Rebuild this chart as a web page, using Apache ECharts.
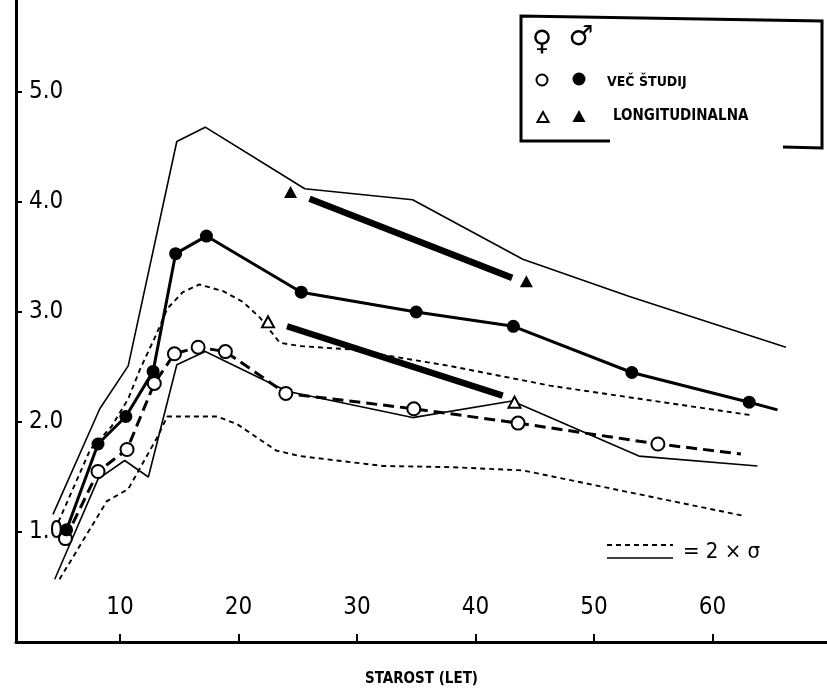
<!DOCTYPE html>
<html><head><meta charset="utf-8">
<script src="https://cdn.jsdelivr.net/npm/echarts@6/dist/echarts.min.js"></script>
<style>html,body{margin:0;padding:0;background:#fff}#c{width:827px;height:692px}</style>
</head><body><div id="c"></div>
<script>
// ---- data ----
const xTicks = [10, 20, 30, 40, 50, 60];
const yTicks = [1, 2, 3, 4, 5];
const maleAges = [5.5, 8.15, 10.5, 12.8, 14.7, 17.3, 25.3, 35.0, 43.2, 53.2, 63.1];
const maleMeans = [1.02, 1.80, 2.05, 2.46, 3.53, 3.69, 3.18, 3.00, 2.87, 2.45, 2.18];
const maleLineEnd = [65.5, 2.11];
const femaleAges = [5.4, 8.15, 10.6, 12.9, 14.6, 16.6, 18.9, 24.0, 34.8, 43.6, 55.4];
const femaleMeans = [0.94, 1.55, 1.75, 2.35, 2.62, 2.68, 2.64, 2.26, 2.12, 1.99, 1.80];
const femaleLineEnd = [62.4, 1.71];
const maleUpperAges = [4.35, 8.3, 10.7, 14.8, 17.2, 25.6, 34.7, 44.0, 53.0, 66.2];
const maleUpper = [1.16, 2.12, 2.51, 4.55, 4.68, 4.12, 4.02, 3.48, 3.14, 2.68];
const maleLowerAges = [4.5, 8.15, 10.4, 12.4, 14.8, 17.2, 24.1, 34.7, 43.1, 53.8, 63.8];
const maleLower = [0.57, 1.48, 1.65, 1.50, 2.52, 2.64, 2.28, 2.04, 2.19, 1.69, 1.60];
const femaleUpperAges = [4.8, 7.5, 9.3, 10.7, 11.7, 13.0, 14.0, 15.3, 16.7, 18.7, 20.4, 21.8, 23.5, 25.2, 29.4, 37.8, 46.3, 63.4];
const femaleUpper = [1.09, 1.75, 1.96, 2.21, 2.48, 2.78, 3.03, 3.18, 3.25, 3.19, 3.09, 2.95, 2.72, 2.69, 2.66, 2.51, 2.33, 2.06];
const femaleLowerAges = [4.9, 8.9, 10.7, 13.1, 14.0, 16.7, 18.2, 19.9, 23.2, 25.2, 32.2, 37.8, 44.0, 62.5];
const femaleLower = [0.57, 1.28, 1.39, 1.85, 2.05, 2.05, 2.05, 1.98, 1.74, 1.69, 1.60, 1.59, 1.56, 1.15];
const maleLongAges = [24.4, 44.3];
const maleLongValues = [4.09, 3.28];
const maleTrendAges = [26.0, 43.1];
const maleTrend = [4.03, 3.31];
const femaleLongAges = [22.5, 43.3];
const femaleLongValues = [2.91, 2.18];
const femaleTrendAges = [24.1, 42.3];
const femaleTrend = [2.87, 2.24];

const zip = (a, b) => a.map((v, i) => [v, b[i]]);
const FONT = '"DejaVu Sans Condensed", "DejaVu Sans", sans-serif';

const maleData = zip(maleAges, maleMeans);
maleData.push({ value: maleLineEnd, symbol: 'none' });
const femaleData = zip(femaleAges, femaleMeans);
femaleData.push({ value: femaleLineEnd, symbol: 'none' });

const env = (data, dashed) => ({
  type: 'line', data, symbol: 'none', silent: true, z: 2,
  lineStyle: { color: '#000', width: dashed ? 1.9 : 1.6, type: dashed ? [5, 4] : 'solid' }
});

const chart = echarts.init(document.getElementById('c'), null, { renderer: 'canvas' });
chart.setOption({
  backgroundColor: '#fff',
  animation: false,
  grid: { left: 16, right: 0, top: 0, bottom: 50, containLabel: false },
  xAxis: {
    type: 'value', min: 1.23, max: 69.67,
    name: 'STAROST (LET)', nameLocation: 'middle', nameGap: 30,
    nameTextStyle: { fontFamily: FONT, fontWeight: 'bold', fontSize: 15, color: '#000' },
    axisLine: { lineStyle: { color: '#000', width: 3 } },
    axisTick: { inside: true, length: 8, lineStyle: { color: '#000', width: 2 }, customValues: xTicks },
    axisLabel: { inside: true, margin: 22, customValues: xTicks, fontFamily: FONT, fontSize: 24, color: '#000',
      formatter: v => String(v) },
    splitLine: { show: false }
  },
  yAxis: {
    type: 'value', min: 0, max: 5.836,
    axisLine: { lineStyle: { color: '#000', width: 3 } },
    axisTick: { inside: true, length: 6, lineStyle: { color: '#000', width: 2 }, customValues: yTicks },
    axisLabel: { inside: true, margin: 13, customValues: yTicks, fontFamily: FONT, fontSize: 24, color: '#000',
      formatter: v => v.toFixed(1) },
    splitLine: { show: false }
  },
  series: [
    env(zip(maleUpperAges, maleUpper), false),
    env(zip(maleLowerAges, maleLower), false),
    env(zip(femaleUpperAges, femaleUpper), true),
    env(zip(femaleLowerAges, femaleLower), true),
    { type: 'line', data: zip(maleTrendAges, maleTrend), symbol: 'none', z: 3,
      lineStyle: { color: '#000', width: 6.5 } },
    { type: 'line', data: zip(femaleTrendAges, femaleTrend), symbol: 'none', z: 3,
      lineStyle: { color: '#000', width: 6.5 } },
    { type: 'line', data: femaleData, symbol: 'circle', symbolSize: 13, z: 4,
      lineStyle: { color: '#000', width: 3, type: [11, 6] },
      itemStyle: { color: '#fff', borderColor: '#000', borderWidth: 2 } },
    { type: 'line', data: maleData, symbol: 'circle', symbolSize: 13, z: 5,
      lineStyle: { color: '#000', width: 3 },
      itemStyle: { color: '#000', borderColor: '#000', borderWidth: 0 } },
    { type: 'scatter', data: zip(maleLongAges, maleLongValues), symbol: 'triangle', symbolSize: [13, 12], z: 6,
      itemStyle: { color: '#000', opacity: 1 } },
    { type: 'scatter', data: zip(femaleLongAges, femaleLongValues), symbol: 'triangle', symbolSize: [12, 11], z: 6,
      itemStyle: { color: '#fff', borderColor: '#000', borderWidth: 2, opacity: 1 } }
  ],
  graphic: [
    // legend frame
    { type: 'polyline', shape: { points: [[610, 141], [521, 141], [521, 16], [822, 21], [822, 148], [783, 147]] },
      style: { stroke: '#000', lineWidth: 3, fill: null } },
    { type: 'text', x: 542, y: 43, style: { text: '\u2640', font: 'bold 28px "DejaVu Sans"', fill: '#000', align: 'center', verticalAlign: 'middle' } },
    { type: 'text', x: 581, y: 38, style: { text: '\u2642', font: 'bold 28px "DejaVu Sans"', fill: '#000', align: 'center', verticalAlign: 'middle' } },
    { type: 'circle', shape: { cx: 542, cy: 80, r: 5.5 }, style: { fill: '#fff', stroke: '#000', lineWidth: 2 } },
    { type: 'circle', shape: { cx: 579, cy: 79, r: 6.5 }, style: { fill: '#000' } },
    { type: 'text', x: 607, y: 82, style: { text: 'VEČ ŠTUDIJ', font: 'bold 14px ' + FONT, fill: '#000', verticalAlign: 'middle' } },
    { type: 'polygon', shape: { points: [[543, 112], [537.5, 122], [548.5, 122]] }, style: { fill: '#fff', stroke: '#000', lineWidth: 2 } },
    { type: 'polygon', shape: { points: [[579, 110], [572.5, 122], [585.5, 122]] }, style: { fill: '#000' } },
    { type: 'text', x: 613, y: 116, style: { text: 'LONGITUDINALNA', font: 'bold 15px ' + FONT, fill: '#000', verticalAlign: 'middle' } },
    // 2 sigma key
    { type: 'line', shape: { x1: 607, y1: 545, x2: 673, y2: 545 }, style: { stroke: '#000', lineWidth: 1.9, lineDash: [5, 4] } },
    { type: 'line', shape: { x1: 607, y1: 558, x2: 673, y2: 558 }, style: { stroke: '#000', lineWidth: 1.6 } },
    { type: 'text', x: 683, y: 552, style: { text: '= 2 × σ', font: '22px ' + FONT, fill: '#000', verticalAlign: 'middle' } }
  ]
});
</script></body></html>
